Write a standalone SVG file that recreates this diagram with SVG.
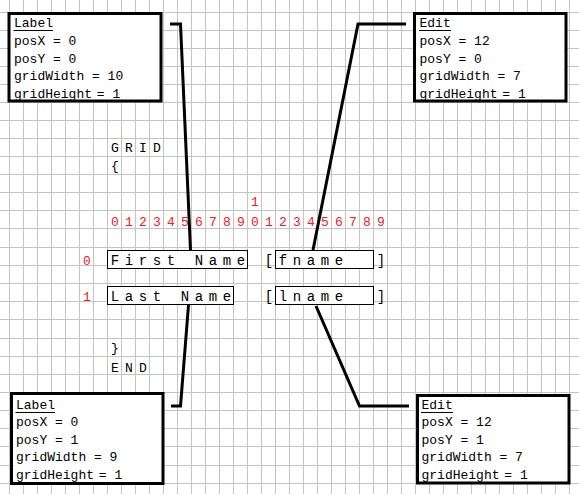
<svg xmlns="http://www.w3.org/2000/svg" width="579" height="494" viewBox="0 0 579 494">
<style>
.grid line{stroke:#c4c4c4;stroke-width:1}
.box{fill:#fff;stroke:#000;stroke-width:3}
.fld{fill:#fff;stroke:#000;stroke-width:1}
.t{font-family:"Liberation Mono","Courier New",monospace;font-size:13px;fill:#000}
.f{font-family:"Liberation Mono","Courier New",monospace;font-size:14px;fill:#000;text-anchor:middle}
.g{font-family:"Liberation Mono","Courier New",monospace;font-size:13px;fill:#000;text-anchor:middle}
.r{font-family:"Liberation Mono","Courier New",monospace;font-size:13px;fill:#f02020;text-anchor:middle}
.ul{stroke:#000;stroke-width:1}
.conn polyline{fill:none;stroke:#000;stroke-width:3;stroke-linejoin:miter}
</style>
<rect x="0" y="0" width="579" height="494" fill="#fff"/>
<g class="grid">
<line x1="9.5" y1="0" x2="9.5" y2="494"/><line x1="23.5" y1="0" x2="23.5" y2="494"/><line x1="37.5" y1="0" x2="37.5" y2="494"/><line x1="51.5" y1="0" x2="51.5" y2="494"/><line x1="65.5" y1="0" x2="65.5" y2="494"/><line x1="79.5" y1="0" x2="79.5" y2="494"/><line x1="93.5" y1="0" x2="93.5" y2="494"/><line x1="107.5" y1="0" x2="107.5" y2="494"/><line x1="121.5" y1="0" x2="121.5" y2="494"/><line x1="135.5" y1="0" x2="135.5" y2="494"/><line x1="149.5" y1="0" x2="149.5" y2="494"/><line x1="163.5" y1="0" x2="163.5" y2="494"/><line x1="177.5" y1="0" x2="177.5" y2="494"/><line x1="191.5" y1="0" x2="191.5" y2="494"/><line x1="205.5" y1="0" x2="205.5" y2="494"/><line x1="219.5" y1="0" x2="219.5" y2="494"/><line x1="233.5" y1="0" x2="233.5" y2="494"/><line x1="247.5" y1="0" x2="247.5" y2="494"/><line x1="261.5" y1="0" x2="261.5" y2="494"/><line x1="275.5" y1="0" x2="275.5" y2="494"/><line x1="289.5" y1="0" x2="289.5" y2="494"/><line x1="303.5" y1="0" x2="303.5" y2="494"/><line x1="317.5" y1="0" x2="317.5" y2="494"/><line x1="331.5" y1="0" x2="331.5" y2="494"/><line x1="345.5" y1="0" x2="345.5" y2="494"/><line x1="359.5" y1="0" x2="359.5" y2="494"/><line x1="373.5" y1="0" x2="373.5" y2="494"/><line x1="387.5" y1="0" x2="387.5" y2="494"/><line x1="401.5" y1="0" x2="401.5" y2="494"/><line x1="415.5" y1="0" x2="415.5" y2="494"/><line x1="429.5" y1="0" x2="429.5" y2="494"/><line x1="443.5" y1="0" x2="443.5" y2="494"/><line x1="457.5" y1="0" x2="457.5" y2="494"/><line x1="471.5" y1="0" x2="471.5" y2="494"/><line x1="485.5" y1="0" x2="485.5" y2="494"/><line x1="499.5" y1="0" x2="499.5" y2="494"/><line x1="513.5" y1="0" x2="513.5" y2="494"/><line x1="527.5" y1="0" x2="527.5" y2="494"/><line x1="541.5" y1="0" x2="541.5" y2="494"/><line x1="555.5" y1="0" x2="555.5" y2="494"/><line x1="569.5" y1="0" x2="569.5" y2="494"/>
<line x1="0" y1="12.5" x2="579" y2="12.5"/><line x1="0" y1="30.5" x2="579" y2="30.5"/><line x1="0" y1="48.5" x2="579" y2="48.5"/><line x1="0" y1="66.5" x2="579" y2="66.5"/><line x1="0" y1="84.5" x2="579" y2="84.5"/><line x1="0" y1="102.5" x2="579" y2="102.5"/><line x1="0" y1="120.5" x2="579" y2="120.5"/><line x1="0" y1="138.5" x2="579" y2="138.5"/><line x1="0" y1="156.5" x2="579" y2="156.5"/><line x1="0" y1="174.5" x2="579" y2="174.5"/><line x1="0" y1="192.5" x2="579" y2="192.5"/><line x1="0" y1="210.5" x2="579" y2="210.5"/><line x1="0" y1="228.5" x2="579" y2="228.5"/><line x1="0" y1="247.5" x2="579" y2="247.5"/><line x1="0" y1="265.5" x2="579" y2="265.5"/><line x1="0" y1="283.5" x2="579" y2="283.5"/><line x1="0" y1="301.5" x2="579" y2="301.5"/><line x1="0" y1="319.5" x2="579" y2="319.5"/><line x1="0" y1="338.5" x2="579" y2="338.5"/><line x1="0" y1="356.5" x2="579" y2="356.5"/><line x1="0" y1="374.5" x2="579" y2="374.5"/><line x1="0" y1="392.5" x2="579" y2="392.5"/><line x1="0" y1="410.5" x2="579" y2="410.5"/><line x1="0" y1="428.5" x2="579" y2="428.5"/><line x1="0" y1="446.5" x2="579" y2="446.5"/><line x1="0" y1="465.5" x2="579" y2="465.5"/><line x1="0" y1="483.5" x2="579" y2="483.5"/>
</g>
<g id="grid-text">
<text class="g" x="115 129 143 157" y="152">GRID</text>
<text class="g" x="115" y="170">{</text>
<text class="r" x="255" y="206">1</text>
<text class="r" x="115 129 143 157 171 185 199 213 227 241 255 269 283 297 311 325 339 353 367 381" y="226">01234567890123456789</text>
<text class="r" x="87" y="265">0</text>
<text class="r" x="87" y="301">1</text>
<text class="g" x="115" y="352">}</text>
<text class="g" x="115 129 143" y="372">END</text>
</g>
<g id="field-firstname">
<rect class="fld" x="107.5" y="250.5" width="140" height="18"/>
<text class="f" x="115 129 143 157 171 185 199 213 227 241" y="265">First Name</text>
</g>
<g id="field-fname">
<text class="f" x="269" y="265">[</text>
<rect class="fld" x="275.5" y="250.5" width="98" height="18"/>
<text class="f" x="283 297 311 325 339" y="265">fname</text>
<text class="f" x="381" y="265">]</text>
</g>
<g id="field-lastname">
<rect class="fld" x="107.5" y="286.5" width="126" height="18"/>
<text class="f" x="115 129 143 157 171 185 199 213 227" y="301">Last Name</text>
</g>
<g id="field-lname">
<text class="f" x="269" y="301">[</text>
<rect class="fld" x="275.5" y="286.5" width="98" height="18"/>
<text class="f" x="283 297 311 325 339" y="301">lname</text>
<text class="f" x="381" y="301">]</text>
</g>
<g class="conn" id="connectors">
<polyline points="170,24 180.5,24 190.5,250"/>
<polyline points="188.5,305 180.5,406 171,406"/>
<polyline points="406,24 358,24 313,250"/>
<polyline points="316,306 359.5,406 409,406"/>
</g>
<g id="label-0">
<rect class="box" x="9" y="13.5" width="152" height="87.5"/>
<text class="t" x="14" y="27">Label</text>
<line class="ul" x1="13.5" y1="30.5" x2="53" y2="30.5"/>
<text class="t" x="14" y="44.5">posX = 0</text>
<text class="t" x="14" y="62.5">posY = 0</text>
<text class="t" x="14" y="80">gridWidth = 10</text>
<text class="t" x="14" y="97.5">gridHeight<tspan dx="-3"> = 1</tspan></text>
</g>
<g id="edit-0">
<rect class="box" x="414.5" y="13.5" width="151.5" height="87.5"/>
<text class="t" x="419.5" y="27">Edit</text>
<line class="ul" x1="419" y1="30.5" x2="451" y2="30.5"/>
<text class="t" x="419.5" y="44.5">posX = 12</text>
<text class="t" x="419.5" y="62.5">posY = 0</text>
<text class="t" x="419.5" y="80">gridWidth = 7</text>
<text class="t" x="419.5" y="97.5">gridHeight<tspan dx="-3"> = 1</tspan></text>
</g>
<g id="label-1">
<rect class="box" x="11.5" y="393.5" width="151.5" height="90"/>
<text class="t" x="16" y="409">Label</text>
<line class="ul" x1="15.5" y1="412.5" x2="55" y2="412.5"/>
<text class="t" x="16" y="426">posX = 0</text>
<text class="t" x="16" y="443.5">posY = 1</text>
<text class="t" x="16" y="461">gridWidth = 9</text>
<text class="t" x="16" y="479">gridHeight<tspan dx="-3"> = 1</tspan></text>
</g>
<g id="edit-1">
<rect class="box" x="417.5" y="395.5" width="151.5" height="87.5"/>
<text class="t" x="421.5" y="409">Edit</text>
<line class="ul" x1="421" y1="412.5" x2="453" y2="412.5"/>
<text class="t" x="421.5" y="426">posX = 12</text>
<text class="t" x="421.5" y="443.5">posY = 1</text>
<text class="t" x="421.5" y="461">gridWidth = 7</text>
<text class="t" x="421.5" y="479">gridHeight<tspan dx="-3"> = 1</tspan></text>
</g>
</svg>
